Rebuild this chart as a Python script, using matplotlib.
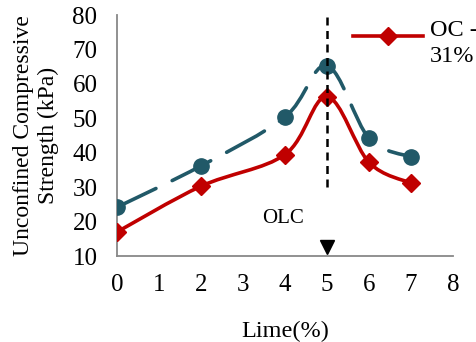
import matplotlib
matplotlib.use("Agg")
from matplotlib import pyplot as plt
from matplotlib.path import Path
from matplotlib.patches import PathPatch
from matplotlib.lines import Line2D

lime = [0, 2, 4, 5, 6, 7]
ucs_teal = [24.2, 36.2, 50.4, 65.3, 44.2, 38.8]
ucs_red = [17.0, 30.3, 39.5, 56.3, 37.2, 31.2]
olc = 5

plt.rcParams['font.family'] = ['Liberation Serif', 'DejaVu Serif']


def smooth_path(xs, ys):
    # excel-like smoothed line: cubic bezier through the points
    pts = list(zip(xs, ys))
    n = len(pts)
    verts = [pts[0]]
    codes = [Path.MOVETO]
    for i in range(n - 1):
        p0 = pts[i - 1] if i > 0 else pts[i]
        p1 = pts[i]
        p2 = pts[i + 1]
        p3 = pts[i + 2] if i + 2 < n else pts[i + 1]
        c1 = (p1[0] + (p2[0] - p0[0]) / 6, p1[1] + (p2[1] - p0[1]) / 6)
        c2 = (p2[0] - (p3[0] - p1[0]) / 6, p2[1] - (p3[1] - p1[1]) / 6)
        verts += [c1, c2, p2]
        codes += [Path.CURVE4] * 3
    return Path(verts, codes)


fig = plt.figure(figsize=(4.77, 3.42), dpi=100)
ax = fig.add_axes([0.245, 0.251, 0.705, 0.705])

teal = '#215968'
red = '#C00000'

ax.add_patch(PathPatch(smooth_path(lime, ucs_teal), fill=False, edgecolor=teal,
                       lw=2.6, linestyle=(0, (12, 5)), capstyle='round', zorder=3))
ax.plot(lime, ucs_teal, linestyle='none', marker='o', ms=11, color=teal, zorder=4)

ax.add_patch(PathPatch(smooth_path(lime, ucs_red), fill=False, edgecolor=red,
                       lw=2.6, zorder=3))
ax.plot(lime, ucs_red, linestyle='none', marker='D', ms=9, color=red, zorder=4)

ax.plot([olc, olc], [30, 80], color='black', lw=1.8, linestyle=(0, (3.2, 2.2)), zorder=5)
ax.plot([olc], [12.7], marker='v', color='black', ms=10, linestyle='none', clip_on=False)
ax.text(3.95, 21, 'OLC', ha='center', va='center', fontsize=15)

ax.set_xlim(0, 8)
ax.set_ylim(10, 80)
ax.set_xticks(range(0, 9))
ax.set_yticks(range(10, 81, 10))
ax.tick_params(length=0, labelsize=18)
ax.tick_params(axis='x', pad=13)
ax.tick_params(axis='y', pad=14)
for s in ['top', 'right']:
    ax.spines[s].set_visible(False)
for s in ['left', 'bottom']:
    ax.spines[s].set_color('#888888')
    ax.spines[s].set_linewidth(1.3)

ax.set_xlabel('Lime(%)', fontsize=17.5, labelpad=18)
ax.set_ylabel('Unconfined Compressive\nStrength (kPa)', fontsize=17, labelpad=10)

# legend drawn by hand so the marker sits on the first text line
fig.add_artist(Line2D([353 / 477, 423 / 477], [1 - 36 / 342] * 2, color=red, lw=2.6,
                      transform=fig.transFigure))
fig.add_artist(Line2D([388 / 477], [1 - 36 / 342], color=red, marker='D', ms=9,
                      transform=fig.transFigure))
fig.text(430 / 477, 1 - 20 / 342, 'OC -\n31%', ha='left', va='top', fontsize=17.5,
         linespacing=1.3)

fig.savefig('out.png', dpi=100)
